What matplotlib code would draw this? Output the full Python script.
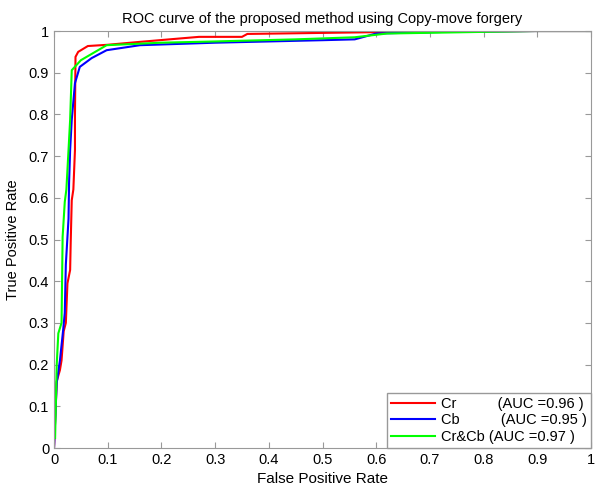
import matplotlib
matplotlib.use("Agg")
import matplotlib.pyplot as plt

plt.rcParams["font.family"] = ["Liberation Sans", "DejaVu Sans"]

# ROC points
cr_fpr = [0, 0.005, 0.011, 0.014, 0.018, 0.022, 0.025, 0.030, 0.031, 0.033, 0.036, 0.039, 0.039,
          0.040, 0.045, 0.063, 0.10, 0.16, 0.27, 0.35, 0.36, 0.64, 0.90, 1.0]
cr_tpr = [0, 0.16, 0.187, 0.21, 0.28, 0.30, 0.395, 0.427, 0.49, 0.594, 0.62, 0.715, 0.80,
          0.938, 0.95, 0.964, 0.967, 0.974, 0.986, 0.986, 0.993, 0.998, 1.0, 1.0]

cb_fpr = [0, 0.005, 0.011, 0.017, 0.020, 0.022, 0.027, 0.028, 0.030, 0.033, 0.039, 0.048, 0.07,
          0.098, 0.16, 0.30, 0.50, 0.56, 0.60, 0.73, 0.90, 1.0]
cb_tpr = [0, 0.156, 0.21, 0.283, 0.324, 0.44, 0.55, 0.635, 0.715, 0.787, 0.875, 0.914, 0.935,
          0.954, 0.966, 0.972, 0.978, 0.98, 0.994, 0.998, 1.0, 1.0]

crcb_fpr = [0.002, 0.005, 0.008, 0.014, 0.016, 0.020, 0.023, 0.027, 0.030, 0.033, 0.05, 0.098,
            0.20, 0.30, 0.45, 0.56, 0.62, 0.895, 1.0]
crcb_tpr = [0.024, 0.2, 0.275, 0.30, 0.506, 0.59, 0.62, 0.715, 0.787, 0.906, 0.93, 0.966,
            0.972, 0.975, 0.98, 0.985, 0.994, 1.0, 1.0]

labels = ["Cr          (AUC =0.96 )", "Cb          (AUC =0.95 )", "Cr&Cb (AUC =0.97 )"]
ticks = [0, 0.1, 0.2, 0.3, 0.4, 0.5, 0.6, 0.7, 0.8, 0.9, 1]
tick_labels = ["0", "0.1", "0.2", "0.3", "0.4", "0.5", "0.6", "0.7", "0.8", "0.9", "1"]

fig = plt.figure(figsize=(5.95, 4.9), dpi=100)
ax = fig.add_axes([0.0908, 0.0857, 0.9025, 0.851])

ax.plot(cr_fpr, cr_tpr, color="#ff0000", lw=1.5, label=labels[0])
ax.plot(cb_fpr, cb_tpr, color="#0000ff", lw=1.5, label=labels[1])
ax.plot(crcb_fpr, crcb_tpr, color="#00ff00", lw=1.5, label=labels[2])

ax.set_xlim(0, 1)
ax.set_ylim(0, 1)
ax.set_xticks(ticks)
ax.set_xticklabels(tick_labels)
ax.set_yticks(ticks)
ax.set_yticklabels(tick_labels)
ax.tick_params(direction="in", top=True, right=True, length=4, color="#999999", labelsize=10.5)
for s in ax.spines.values():
    s.set_color("#999999")

ax.set_xlabel("False Positive Rate", fontsize=11, labelpad=4)
ax.set_ylabel("True Positive Rate", fontsize=10.5, labelpad=6)
ax.set_title("ROC curve of the proposed method using Copy-move forgery", fontsize=10.5, pad=6)

leg = ax.legend(loc="lower right", fontsize=10.5, handlelength=3.0, fancybox=False,
                borderaxespad=0, framealpha=1, edgecolor="#999999", borderpad=0.3,
                labelspacing=0.15, handletextpad=0.4)

fig.savefig("out.png", dpi=100)
